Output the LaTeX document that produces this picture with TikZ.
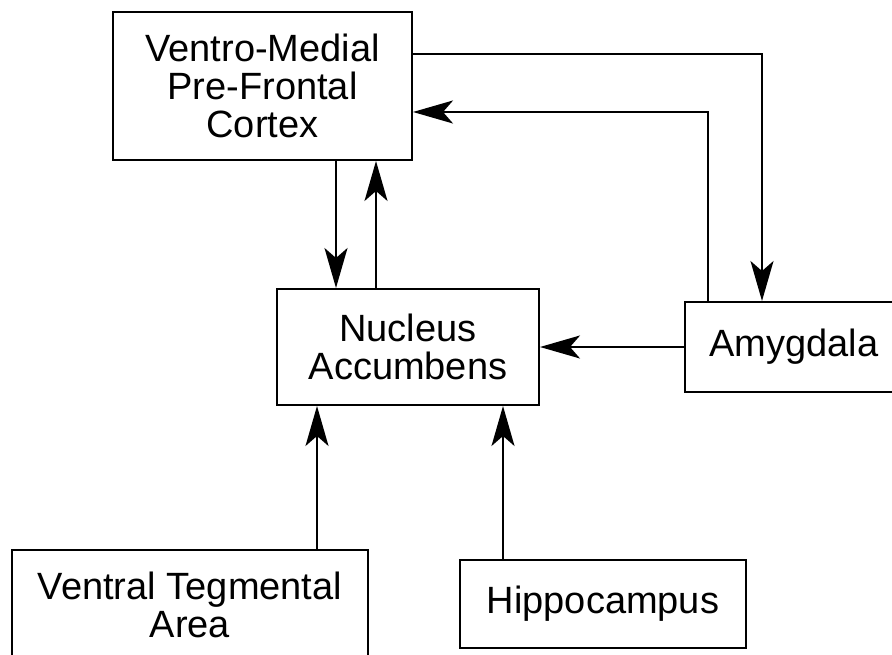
\documentclass[tikz,border=0pt]{standalone}
\usepackage{fontspec}
\setmainfont{Liberation Sans}
\usetikzlibrary{arrows.meta}
\begin{document}
\begin{tikzpicture}[x=1pt,y=-1pt,
  region/.style={draw, line width=2pt, inner sep=0pt, align=center,
    font=\fontsize{38}{38}\selectfont},
  link/.style={line width=2pt, -{Stealth[length=40pt,width=23pt,inset=10pt]}}]
  \useasboundingbox (0,0) rectangle (892,655);
  \clip (0,0) rectangle (892,655);
  % brain regions
  \node[region, minimum width=299pt, minimum height=148pt] (vm) at (262.5,86) {Ventro-Medial\\Pre-Frontal\\Cortex};
  \node[region, minimum width=262pt, minimum height=116pt] (na) at (408,347) {Nucleus\\Accumbens};
  \node[region, minimum width=218pt, minimum height=90pt] (amy) at (794,347) {Amygdala};
  \node[region, minimum width=356pt, minimum height=110pt] (vta) at (190,605) {Ventral Tegmental\\Area};
  \node[region, minimum width=286pt, minimum height=88pt] (hip) at (603,604) {Hippocampus};
  % routing points for the connectors
  \coordinate (r1) at (762,54);
  \coordinate (r2) at (708,112);
  \coordinate (d1) at (336,0);
  \coordinate (d2) at (376,0);
  \coordinate (u1) at (317,0);
  \coordinate (u2) at (503,0);
  % projections
  \draw[link] (vm.east |- r1) -| (amy.north -| r1);
  \draw[link] (amy.north -| r2) |- (vm.east |- r2);
  \draw[link] (vm.south -| d1) -- (na.north -| d1);
  \draw[link] (na.north -| d2) -- (vm.south -| d2);
  \draw[link] (amy.west) -- (na.east);
  \draw[link] (vta.north -| u1) -- (na.south -| u1);
  \draw[link] (hip.north -| u2) -- (na.south -| u2);
\end{tikzpicture}
\end{document}
